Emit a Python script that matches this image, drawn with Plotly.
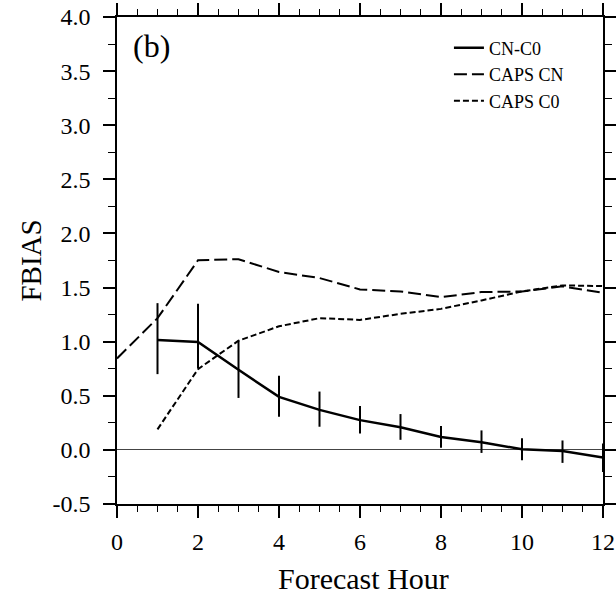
import plotly.graph_objects as go

hours_cn_c0 = [1, 2, 3, 4, 5, 6, 7, 8, 9, 10, 11, 12]
cn_c0 = [1.015, 0.997, 0.74, 0.49, 0.37, 0.275, 0.21, 0.12, 0.07, 0.006, -0.01, -0.07]
cn_c0_upper = [1.356, 1.35, 1.01, 0.684, 0.539, 0.405, 0.331, 0.22, 0.18, 0.108, 0.087, 0.059]
cn_c0_lower = [0.70, 0.755, 0.48, 0.307, 0.214, 0.152, 0.093, 0.019, -0.028, -0.096, -0.12, -0.204]

hours_caps_cn = [0, 1, 2, 3, 4, 5, 6, 7, 8, 9, 10, 11, 12]
caps_cn = [0.845, 1.217, 1.752, 1.762, 1.644, 1.588, 1.483, 1.464, 1.412, 1.458, 1.464, 1.511, 1.452]

hours_caps_c0 = [1, 2, 3, 4, 5, 6, 7, 8, 9, 10, 11, 12]
caps_c0 = [0.19, 0.746, 1.009, 1.142, 1.217, 1.201, 1.257, 1.303, 1.381, 1.464, 1.520, 1.514]

x_ticks = [0, 2, 4, 6, 8, 10, 12]
y_ticks = [-0.5, 0.0, 0.5, 1.0, 1.5, 2.0, 2.5, 3.0, 3.5, 4.0]
y_tick_labels = ["-0.5", "0.0", "0.5", "1.0", "1.5", "2.0", "2.5", "3.0", "3.5", "4.0"]

FONT = "Liberation Serif, Times New Roman, serif"

err_plus = [u - v for u, v in zip(cn_c0_upper, cn_c0)]
err_minus = [v - l for v, l in zip(cn_c0, cn_c0_lower)]

fig = go.Figure()

fig.add_trace(go.Scatter(
    x=hours_cn_c0, y=cn_c0, mode="lines", name="CN-C0",
    line=dict(color="black", width=2.5),
))
fig.add_trace(go.Scatter(
    x=hours_caps_cn, y=caps_cn, mode="lines", name="CAPS CN",
    line=dict(color="black", width=2, dash="13px,5px"),
))
fig.add_trace(go.Scatter(
    x=hours_caps_c0, y=caps_c0, mode="lines", name="CAPS C0",
    line=dict(color="black", width=2, dash="6px,3px"),
))
# error bars (no legend entry)
fig.add_trace(go.Scatter(
    x=hours_cn_c0, y=cn_c0, mode="markers", showlegend=False,
    marker=dict(size=0.1, color="rgba(0,0,0,0)"),
    error_y=dict(type="data", symmetric=False, array=err_plus, arrayminus=err_minus,
                 color="black", thickness=2, width=0),
    hoverinfo="skip",
))

axis_common = dict(
    showgrid=False,
    showline=True, linecolor="black", linewidth=1.5,
    mirror="ticks", ticks="outside", tickcolor="black", tickwidth=1.5, ticklen=12,
    tickfont=dict(family=FONT, size=24, color="black"),
)

fig.update_xaxes(
    range=[0, 12], tickvals=x_ticks, ticktext=[str(v) for v in x_ticks],
    minor=dict(dtick=0.5, ticks="outside", ticklen=6, tickcolor="black", tickwidth=1.2),
    zeroline=False, ticklabelstandoff=3,
    **axis_common,
)
fig.update_yaxes(
    range=[-0.5, 4.0], tickvals=y_ticks, ticktext=y_tick_labels,
    minor=dict(dtick=0.25, ticks="outside", ticklen=7, tickcolor="black", tickwidth=1.2),
    zeroline=True, zerolinecolor="#444444", zerolinewidth=1, ticklabelstandoff=8,
    **axis_common,
)

fig.update_layout(
    width=616, height=592,
    margin=dict(l=117, r=13, t=17, b=88, autoexpand=False),
    plot_bgcolor="white", paper_bgcolor="white",
    font=dict(family=FONT, color="black"),
    showlegend=True,
    legend=dict(
        x=0.683, y=0.974, xanchor="left", yanchor="top",
        bgcolor="rgba(0,0,0,0)", borderwidth=0,
        font=dict(family=FONT, size=18, color="black"),
        tracegroupgap=0,
    ),
    annotations=[
        dict(text="(b)", xref="paper", yref="paper", x=0.072, y=0.940,
             xanchor="center", yanchor="middle", showarrow=False,
             font=dict(family=FONT, size=32, color="black")),
        dict(text="Forecast Hour", xref="paper", yref="paper", x=0.508, y=-0.114,
             xanchor="center", yanchor="top", showarrow=False,
             font=dict(family=FONT, size=30, color="black")),
        dict(text="FBIAS", xref="paper", yref="paper", x=-0.179, y=0.5,
             xanchor="center", yanchor="middle", showarrow=False, textangle=-90,
             font=dict(family=FONT, size=29, color="black")),
    ],
)

fig.write_html(
    "out.html",
    config={"displayModeBar": False},
    post_script="document.body.style.margin='0';document.documentElement.style.overflow='hidden';",
)
